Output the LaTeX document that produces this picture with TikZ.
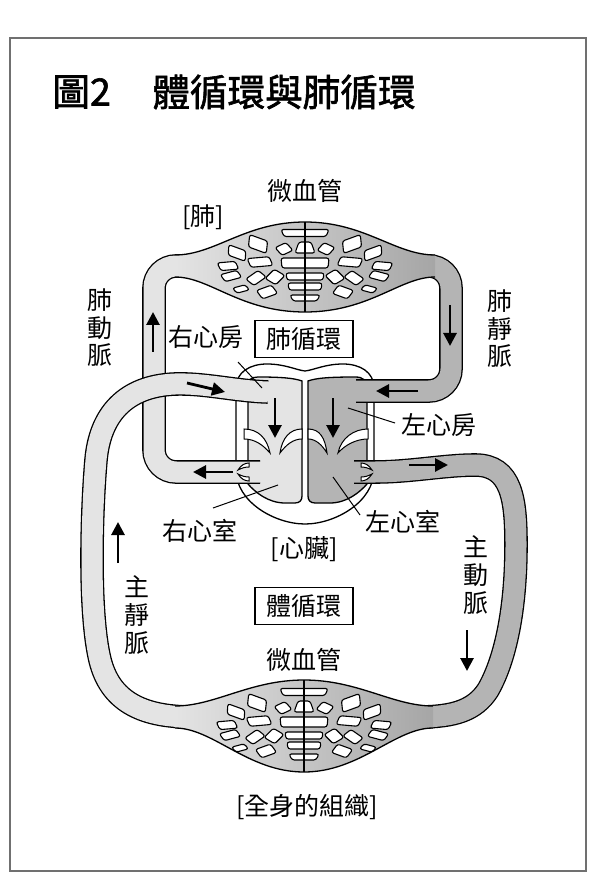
\documentclass[tikz,border=0pt]{standalone}
\usepackage{fontspec}
\newfontfamily\cjk{Noto Sans CJK TC}
\newfontfamily\cjkt[FakeBold=1.6]{Noto Sans CJK TC}
\usetikzlibrary{arrows.meta}
\definecolor{lightg}{HTML}{E4E4E4}
\definecolor{darkg}{HTML}{B4B4B4}
\definecolor{framec}{HTML}{707070}
\newcommand\sideholes{%
\foreach \hx/\hy/\hw/\hh/\hr in {-47/-23/22/12/-20, -21/-18/15/10/25, -68/-14/21/10/-20, -45/-5/25/9/5, -77/-1/21/8/5, -30/10/16/12/45, -74/9/20/8/15, -49/11/18/10/35, -64/22/16/6/15, -38/25/19/10/20}{%
 \draw[hole,shift={(\hx,\hy)},rotate=\hr] (-\hw/2,-\hh/2) -- (\hw/2-3,-\hh/2) -- (\hw/2,\hh/2) -- (-\hw/2+3,\hh/2) -- cycle;}}
\newcommand\midholes{%
\foreach \hy/\tw/\bw/\hh in {-34/48/42/7, -19.5/12/20/11, -4/48/46/10, 9.5/38/36/7, 19.5/34/32/7, 31/30/24/6}{%
 \draw[hole] (-\tw/2,\hy-\hh/2) -- (\tw/2,\hy-\hh/2) -- (\bw/2,\hy+\hh/2) -- (-\bw/2,\hy+\hh/2) -- cycle;}}
\begin{document}
\begin{tikzpicture}[x=0.5pt,y=-0.5pt,
  lbl/.style={font=\cjk\fontsize{12.5}{13.8}\selectfont, inner sep=0pt, align=center},
  ttl/.style={font=\cjkt\fontsize{18.8}{20}\selectfont, inner sep=0pt, anchor=west},
  boxlbl/.style={lbl, draw, line width=0.6pt, minimum width=49pt, minimum height=18.5pt},
  tube/.style={draw=black, line width=0.65pt, double=#1, double distance=10.5pt},
  edge/.style={draw=black, line width=0.65pt},
  hole/.style={fill=white, draw=black, line width=0.55pt, rounded corners=1.2pt},
  valve/.style={fill=white, draw=black, line width=0.5pt},
  flowarrow/.style={line width=1.4pt, -{Triangle[width=6.5pt,length=6.5pt]}},
  leader/.style={line width=0.5pt}]
\useasboundingbox (0,0) rectangle (600,892);
\fill[white] (0,0) rectangle (600,892);
\draw[framec, line width=0.75pt] (10,38) rectangle (586,871);

% title
\node[ttl] (t1) at (52,92) {圖2};
\node[ttl] (t2) at (152,92) {體循環與肺循環};

% heart outline
\filldraw[fill=white, edge] (236,470) -- (236,388) .. controls (236,372) and (250,364) .. (267,364) .. controls (285,364) and (296,370) .. (305,371) .. controls (314,370) and (325,364) .. (343,364) .. controls (360,364) and (374,372) .. (374,388) -- (374,470) .. controls (374,502) and (335,524) .. (305,524) .. controls (275,524) and (236,502) .. (236,470) -- cycle;
% right heart (light)
\filldraw[fill=lightg, edge] (248,484) -- (248,386) .. controls (248,380) and (251,377) .. (258,377) .. controls (280,377) and (294,378) .. (302,381) -- (302,496) .. controls (302,500) and (300,503) .. (295,503) -- (285,503) .. controls (268,503) and (255,492) .. (248,484) -- cycle;
% left heart (dark)
\filldraw[fill=darkg, edge] (308,381) .. controls (316,378) and (330,377) .. (355,377) .. controls (363,377) and (367,380) .. (367,388) -- (367,484) .. controls (360,492) and (347,503) .. (330,503) -- (315,503) .. controls (310,503) and (308,500) .. (308,496) -- cycle;

% pulmonary artery and vein
\draw[tube=lightg, rounded corners=11pt] (260,472) -- (154,472) -- (154,266) -- (192,266);
\draw[tube=darkg, rounded corners=11pt] (418,266) -- (451,266) -- (451,391) -- (356,391);

% lung capillaries
\shade[left color=lightg, right color=darkg!92!black] (175,255) .. controls (215,255) and (245,222) .. (305,222) .. controls (365,222) and (395,255) .. (435,255) -- (435,277) .. controls (400,277) and (370,312) .. (305,312) .. controls (240,312) and (210,277) .. (175,277) -- cycle;
\begin{scope}[shift={(305,267)}]
\sideholes
\midholes
\end{scope}
\begin{scope}[shift={(305,267)},xscale=-1]
\sideholes
\end{scope}
\draw[edge] (175,255) .. controls (215,255) and (245,222) .. (305,222) .. controls (365,222) and (395,255) .. (435,255);
\draw[edge] (435,277) .. controls (400,277) and (370,312) .. (305,312) .. controls (240,312) and (210,277) .. (175,277);
\draw[edge] (305,222) -- (305,312);

% vena cava and aorta
\draw[tube=lightg] (268,392) .. controls (235,391) and (205,383) .. (175,384) .. controls (125,386) and (100,415) .. (96,460) .. controls (92,505) and (88,610) .. (100,660) .. controls (110,700) and (140,717) .. (192,717);
\draw[tube=darkg] (354,472) -- (375,472) .. controls (410,472) and (445,465) .. (475,465) .. controls (512,465) and (516,500) .. (516,545) .. controls (516,600) and (508,655) .. (488,690) .. controls (475,710) and (455,717) .. (418,717);

% body capillaries
\shade[left color=lightg, right color=darkg!92!black] (175,706) .. controls (215,706) and (250,680) .. (304,680) .. controls (358,680) and (393,706) .. (433,706) -- (433,728) .. controls (395,728) and (360,772) .. (304,772) .. controls (248,772) and (213,728) .. (175,728) -- cycle;
\begin{scope}[shift={(304,726)}]
\sideholes
\midholes
\end{scope}
\begin{scope}[shift={(304,726)},xscale=-1]
\sideholes
\end{scope}
\draw[edge] (175,706) .. controls (215,706) and (250,680) .. (304,680) .. controls (358,680) and (393,706) .. (433,706);
\draw[edge] (433,728) .. controls (395,728) and (360,772) .. (304,772) .. controls (248,772) and (213,728) .. (175,728);
\draw[edge] (304,680) -- (304,772);

% openings into the chambers
\fill[lightg] (249.3,381.6) rectangle (272,401.4);
\fill[darkg] (350,381.6) rectangle (366.7,401.4);
\fill[lightg] (249.3,461.6) rectangle (264,482.4);
\fill[darkg] (350,461.6) rectangle (366.7,482.4);

% valves
\draw[valve] (244,429) .. controls (258,429) and (267,438) .. (270,453) .. controls (263,445) and (255,439) .. (244,439) -- cycle;
\draw[valve] (302,429) .. controls (290,429) and (282,438) .. (280,453) .. controls (286,445) and (293,439) .. (302,439) -- cycle;
\draw[valve] (308,429) .. controls (320,429) and (325,438) .. (327,453) .. controls (322,445) and (316,439) .. (308,439) -- cycle;
\draw[valve] (368,429) .. controls (354,429) and (341,438) .. (338,453) .. controls (345,445) and (356,439) .. (368,439) -- cycle;
\draw[valve] (249,463) .. controls (245,463) and (241,465) .. (238,470) .. controls (242,468) and (245,467) .. (249,467) -- cycle;
\draw[valve] (249,481) .. controls (245,481) and (241,479) .. (238,474) .. controls (242,476) and (245,477) .. (249,477) -- cycle;
\draw[valve] (361,463) .. controls (365,463) and (369,465) .. (372,470) .. controls (368,468) and (365,467) .. (361,467) -- cycle;
\draw[valve] (361,481) .. controls (365,481) and (369,479) .. (372,474) .. controls (368,476) and (365,477) .. (361,477) -- cycle;

% flow arrows
\draw[flowarrow] (153,352) -- (153,312);
\draw[flowarrow] (450,305) -- (450,346);
\draw[flowarrow] (187,383) -- (225,392);
\draw[flowarrow] (418,391) -- (376,391);
\draw[flowarrow] (233,472) -- (193,472);
\draw[flowarrow] (409,465) -- (448,465);
\draw[flowarrow] (275,398) -- (275,438);
\draw[flowarrow] (333,398) -- (333,438);
\draw[flowarrow] (118,563) -- (118,522);
\draw[flowarrow] (467,630) -- (467,671);

% labels
\node[lbl] (cap1) at (305,191) {微血管};
\node[lbl] (lung) at (203,217) {[肺]};
\node[lbl] (ra) at (206,337) {右心房};
\node[boxlbl] (pc) at (304,339) {肺循環};
\node[lbl] (la) at (439,425) {左心房};
\node[lbl] (rv) at (200,531) {右心室};
\node[lbl] (lv) at (403,522) {左心室};
\node[lbl] (heart) at (304,549) {[心臟]};
\node[boxlbl] (sc) at (304,606) {體循環};
\node[lbl] (cap2) at (304,660) {微血管};
\node[lbl] (tissue) at (307,807) {[全身的組織]};
\node[lbl] (pa) at (100,328) {肺\\動\\脈};
\node[lbl] (pv) at (500,329) {肺\\靜\\脈};
\node[lbl] (ao) at (476,575) {主\\動\\脈};
\node[lbl] (vc) at (137,615) {主\\靜\\脈};

% leader lines
\coordinate (ra1) at (238,362); \coordinate (ra2) at (262,388);
\coordinate (la1) at (395,423); \coordinate (la2) at (348,408);
\coordinate (rv1) at (213,508); \coordinate (rv2) at (278,485);
\coordinate (lv1) at (360,515); \coordinate (lv2) at (333,477);
\draw[leader] (ra1) -- (ra2);
\draw[leader] (la1) -- (la2);
\draw[leader] (rv1) -- (rv2);
\draw[leader] (lv1) -- (lv2);
\end{tikzpicture}
\end{document}
